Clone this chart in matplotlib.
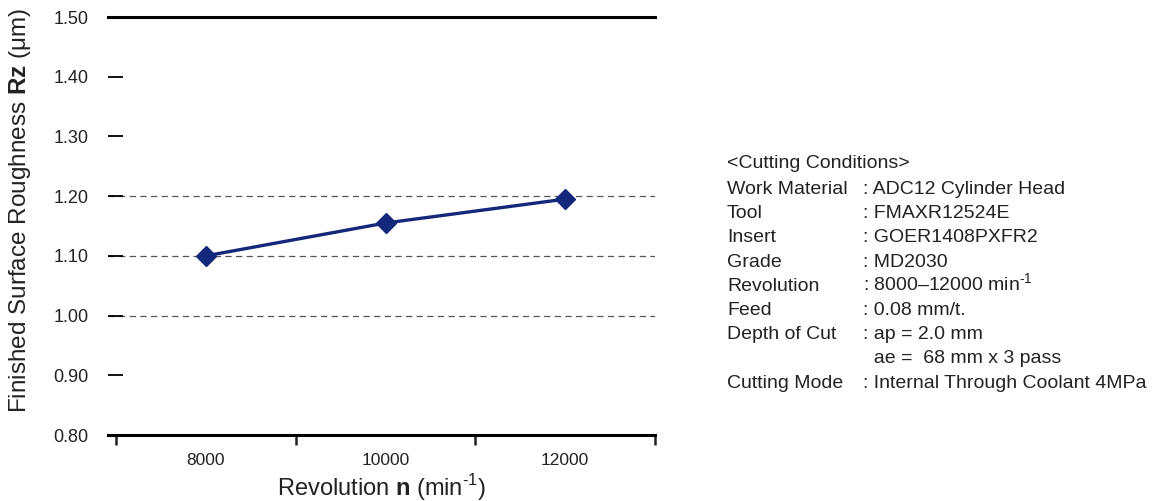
import matplotlib.pyplot as plt

plt.rcParams['font.family'] = ['Liberation Sans', 'DejaVu Sans']
plt.rcParams['mathtext.fontset'] = 'custom'
plt.rcParams['mathtext.rm'] = 'Liberation Sans'
plt.rcParams['mathtext.bf'] = 'Liberation Sans:bold'

# data
revolutions = ['8000', '10000', '12000']
rz = [1.10, 1.155, 1.195]
y_ticks = [0.80, 0.90, 1.00, 1.10, 1.20, 1.30, 1.40, 1.50]
grid_levels = [1.00, 1.10, 1.20]

cond_labels = ['Work Material', 'Tool', 'Insert', 'Grade', 'Revolution',
               'Feed', 'Depth of Cut', '', 'Cutting Mode']
cond_values = [': ADC12 Cylinder Head', ': FMAXR12524E', ': GOER1408PXFR2',
               ': MD2030', ': 8000\u201312000 min$^{\\text{-1}}$', ': 0.08 mm/t.',
               ': ap = 2.0 mm', '  ae =  68 mm x 3 pass',
               ': Internal Through Coolant 4MPa']

navy = '#13287a'
txt = '#222222'

fig = plt.figure(figsize=(11.71, 5.01), dpi=100)
ax = fig.add_axes([108 / 1171, 1 - 435 / 501, (655 - 108) / 1171, (435 - 17) / 501])

xs = list(range(len(revolutions)))
for g in grid_levels:
    ax.axhline(g, color='#555555', lw=0.9, ls=(0, (5, 3.5)), zorder=1)
ax.axhline(1.50, color='black', lw=2.2, zorder=2, clip_on=False)
ax.plot(xs, rz, color=navy, lw=2.4, marker='D', markersize=10, zorder=3)

ax.set_xlim(-0.545, 2.5)
ax.set_ylim(0.80, 1.50)
ax.set_yticks(y_ticks)
ax.set_yticklabels(['%.2f' % v for v in y_ticks], fontsize=13, color=txt)
ax.tick_params(axis='y', direction='in', length=11, width=1.3, pad=14, color='black')

ax.set_xticks(xs)
ax.set_xticklabels(revolutions, fontsize=12.5, color=txt)
ax.set_xticks([-0.5, 0.5, 1.5, 2.5], minor=True)
ax.tick_params(axis='x', which='major', length=0, pad=13)
ax.tick_params(axis='x', which='minor', direction='out', length=7, width=1.8, color=txt)

for s in ['top', 'left', 'right']:
    ax.spines[s].set_visible(False)
ax.spines['bottom'].set_linewidth(2.2)

ax.set_xlabel('Revolution $\\mathbf{n}$ (min$^{\\text{-1}}$)', fontsize=17, color=txt, labelpad=3)
ax.set_ylabel('Finished Surface Roughness $\\mathbf{Rz}$ (\u03bcm)', fontsize=17.5, color=txt)
ax.yaxis.set_label_coords(-0.137, 0.538)

# cutting conditions block
x1, x2 = 727 / 1171, 863 / 1171
fig.text(x1, 1 - 168 / 501, '<Cutting Conditions>', fontsize=14, color=txt, va='baseline')
step = 24.2
for i, (lab, val) in enumerate(zip(cond_labels, cond_values)):
    y = 1 - (194 + i * step) / 501
    fig.text(x1, y, lab, fontsize=14, color=txt, va='baseline')
    fig.text(x2, y, val, fontsize=14, color=txt, va='baseline')

fig.savefig('out.png', dpi=100)
